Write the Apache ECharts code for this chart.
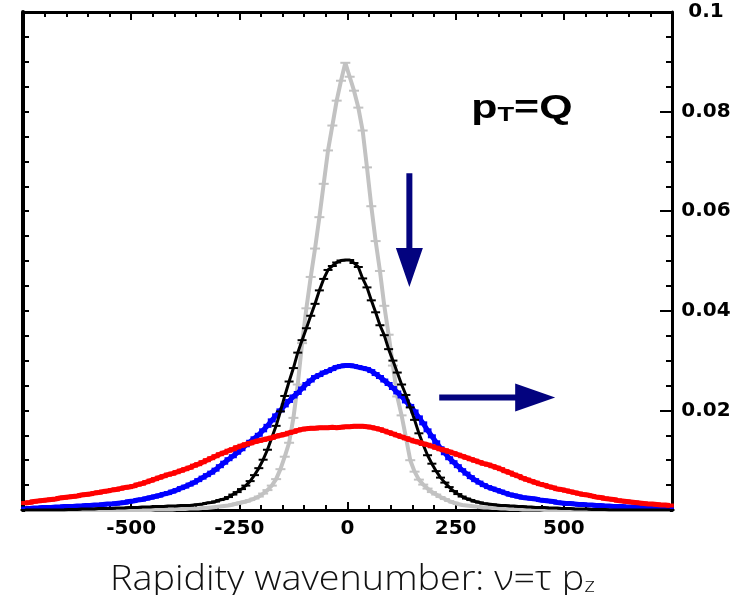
<!DOCTYPE html>
<html>
<head>
<meta charset="utf-8">
<script src="https://cdn.jsdelivr.net/npm/echarts@6/dist/echarts.min.js"></script>
<style>
  html, body { margin: 0; padding: 0; background: #fff; }
  #chart { width: 740px; height: 595px; }
</style>
</head>
<body>
<div id="chart"></div>
<script>
// Rapidity-wavenumber bins: 10 wide, centred on odd multiples of 5 (-745 ... 745)
const NU_FIRST = -745, NU_STEP = 10, NU_COUNT = 150;
const nu = Array.from({ length: NU_COUNT }, (_, i) => NU_FIRST + i * NU_STEP);

const xTickLabels = ['-500', '-250', '0', '250', '500'];
const yTickLabels = ['0.02', '0.04', '0.06', '0.08', '0.1'];

// Distributions at successive times (narrowest first)
const grayCurve = [
  0,0,0,0,0,0,0,0,0,0, 0,0,0,0,0,0,0,0,0,0, 0,0,0,0,0,0,0,0,0,0,
  0.0001,0.0001,0.0001,0.0001,0.0001, 0.0002,0.0002,0.0002,0.0003,0.0003,
  0.0003,0.0004,0.0004,0.0005,0.0006, 0.0007,0.0008,0.0009,0.0011,0.0013,
  0.0015,0.0017,0.0020,0.0023,0.0027, 0.0033,0.0040,0.0049,0.0062,0.0082,
  0.0107,0.0135,0.0185,0.0252,0.0335, 0.0405,0.0468,0.0525,0.0588,0.0655,
  0.0722,0.0772,0.0822,0.0862,0.0898,
  0.0870,0.0842,0.0808,0.0762,0.0688, 0.0610,0.0540,0.0480,0.0410,0.0352,
  0.0290,0.0228,0.0190,0.0146,0.0100, 0.0077,0.0061,0.0051,0.0043,0.0036,
  0.0031,0.0026,0.0022,0.0018,0.0015, 0.0012,0.0010,0.0009,0.0008,0.0007,
  0.0006,0.0005,0.0005,0.0004,0.0004, 0.0003,0.0003,0.0002,0.0002,0.0002,
  0.0001,0.0001,0.0001,0.0001,0.0001,
  0,0,0,0,0,0,0,0,0,0, 0,0,0,0,0,0,0,0,0,0, 0,0,0,0,0,0,0,0,0,0
];

const blackCurve = [
  0,0,0,0,0,0,0,0,0,0,
  0.0001,0.0001,0.0001,0.0002,0.0002, 0.0002,0.0002,0.0003,0.0003,0.0003,
  0.0003,0.0004,0.0004,0.0004,0.0005, 0.0005,0.0005,0.0006,0.0006,0.0006,
  0.0007,0.0007,0.0007,0.0008,0.0008, 0.0008,0.0009,0.0009,0.0009,0.0010,
  0.0011,0.0012,0.0014,0.0015,0.0017, 0.0020,0.0022,0.0026,0.0031,0.0036,
  0.0042,0.0049,0.0058,0.0070,0.0084, 0.0101,0.0121,0.0145,0.0169,0.0198,
  0.0229,0.0258,0.0285,0.0316,0.0341, 0.0365,0.0390,0.0414,0.0441,0.0464,
  0.0482,0.0490,0.0497,0.0501,0.0502,
  0.0502,0.0496,0.0488,0.0465,0.0447, 0.0421,0.0397,0.0371,0.0351,0.0323,
  0.0300,0.0276,0.0252,0.0231,0.0206, 0.0181,0.0154,0.0131,0.0110,0.0093,
  0.0078,0.0065,0.0055,0.0046,0.0038, 0.0032,0.0027,0.0023,0.0020,0.0017,
  0.0015,0.0013,0.0012,0.0011,0.0010, 0.0009,0.0009,0.0008,0.0008,0.0007,
  0.0007,0.0006,0.0006,0.0005,0.0005, 0.0005,0.0004,0.0004,0.0004,0.0003,
  0.0003,0.0003,0.0002,0.0002,0.0002, 0.0002,0.0001,0.0001,0.0001,0.0001,
  0,0,0,0,0,0,0,0,0,0, 0,0,0,0,0
];

const blueCurve = [
  0.0003,0.0003,0.0004,0.0004,0.0005, 0.0005,0.0005,0.0006,0.0006,0.0007,
  0.0007,0.0007,0.0008,0.0008,0.0009, 0.0009,0.0010,0.0010,0.0011,0.0012,
  0.0012,0.0013,0.0014,0.0015,0.0017, 0.0018,0.0020,0.0021,0.0023,0.0025,
  0.0027,0.0029,0.0032,0.0034,0.0037, 0.0040,0.0044,0.0047,0.0051,0.0055,
  0.0060,0.0065,0.0070,0.0075,0.0081, 0.0088,0.0095,0.0102,0.0108,0.0115,
  0.0122,0.0130,0.0137,0.0144,0.0151, 0.0160,0.0169,0.0180,0.0190,0.0200,
  0.0210,0.0219,0.0228,0.0235,0.0244, 0.0253,0.0260,0.0267,0.0271,0.0276,
  0.0279,0.0283,0.0287,0.0289,0.0290,
  0.0290,0.0289,0.0287,0.0285,0.0283, 0.0279,0.0273,0.0267,0.0260,0.0253,
  0.0245,0.0236,0.0228,0.0218,0.0209, 0.0198,0.0186,0.0174,0.0160,0.0148,
  0.0136,0.0124,0.0114,0.0104,0.0096, 0.0088,0.0080,0.0073,0.0066,0.0060,
  0.0055,0.0050,0.0046,0.0043,0.0040, 0.0037,0.0034,0.0031,0.0029,0.0027,
  0.0025,0.0024,0.0023,0.0022,0.0020, 0.0019,0.0018,0.0017,0.0015,0.0014,
  0.0013,0.0013,0.0012,0.0011,0.0011, 0.0010,0.0010,0.0009,0.0009,0.0008,
  0.0008,0.0007,0.0007,0.0007,0.0006, 0.0006,0.0005,0.0005,0.0005,0.0004,
  0.0004,0.0004,0.0003,0.0003,0.0003
];

const redCurve = [
  0.0014,0.0015,0.0017,0.0018,0.0019, 0.0020,0.0021,0.0022,0.0024,0.0025,
  0.0026,0.0027,0.0028,0.0030,0.0031, 0.0032,0.0034,0.0035,0.0037,0.0038,
  0.0040,0.0041,0.0043,0.0045,0.0046, 0.0048,0.0051,0.0053,0.0056,0.0059,
  0.0062,0.0065,0.0068,0.0071,0.0073, 0.0076,0.0079,0.0082,0.0085,0.0089,
  0.0092,0.0096,0.0100,0.0104,0.0108, 0.0112,0.0115,0.0119,0.0122,0.0126,
  0.0129,0.0132,0.0134,0.0137,0.0139, 0.0141,0.0143,0.0145,0.0148,0.0150,
  0.0152,0.0155,0.0157,0.0160,0.0162, 0.0163,0.0164,0.0164,0.0165,0.0165,
  0.0165,0.0166,0.0165,0.0166,0.0167,
  0.0167,0.0168,0.0168,0.0168,0.0167, 0.0166,0.0164,0.0162,0.0159,0.0156,
  0.0153,0.0150,0.0147,0.0144,0.0141, 0.0138,0.0136,0.0133,0.0131,0.0128,
  0.0125,0.0122,0.0120,0.0117,0.0114, 0.0111,0.0108,0.0105,0.0102,0.0099,
  0.0096,0.0093,0.0091,0.0088,0.0085, 0.0082,0.0078,0.0075,0.0071,0.0068,
  0.0064,0.0061,0.0058,0.0055,0.0052, 0.0050,0.0047,0.0045,0.0042,0.0041,
  0.0039,0.0037,0.0035,0.0033,0.0031, 0.0030,0.0028,0.0026,0.0025,0.0023,
  0.0022,0.0021,0.0019,0.0018,0.0017, 0.0016,0.0015,0.0014,0.0013,0.0012,
  0.0012,0.0011,0.0010,0.0010,0.0009
];

// Annotation arrows, in data units: [nu, value] tail -> tip
const arrowDown  = [[143, 0.0676], [143, 0.0448]];
const arrowRight = [[212, 0.0226], [480, 0.0226]];
// Label anchor (left, baseline) in data units
const ptLabelAt = [286, 0.0780];

const chart = echarts.init(document.getElementById('chart'), null, { renderer: 'canvas' });

const tickFont = { fontFamily: 'DejaVu Sans', fontWeight: 'bold', color: '#000' };
const frameLine = { show: true, onZero: false, lineStyle: { color: '#000', width: 3 } };

function curve(name, data, color, width, markSize, z) {
  return {
    name, type: 'line', z,
    xAxisIndex: 0, yAxisIndex: 0,
    data: nu.map((x, i) => [x, data[i]]),
    showAllSymbol: true,
    symbol: 'rect', symbolSize: markSize,
    itemStyle: { color },
    lineStyle: { color, width },
    emphasis: { disabled: true },
    silent: true
  };
}

chart.setOption({
  animation: false,
  backgroundColor: '#fff',
  grid: { left: 23, right: 68, top: 12, bottom: 85, containLabel: false },
  xAxis: [
    {
      type: 'value', position: 'bottom', min: -750, max: 750, interval: 250,
      axisLine: frameLine,
      axisTick: { show: true, inside: true, length: 8, lineStyle: { color: '#000', width: 2 } },
      minorTick: { show: true, splitNumber: 5, length: 5, lineStyle: { color: '#000', width: 2 } },
      axisLabel: Object.assign({
        fontSize: 20, margin: 9, showMinLabel: false, showMaxLabel: false,
        formatter: v => xTickLabels.includes(String(v)) ? String(v) : ''
      }, tickFont),
      splitLine: { show: false }
    },
    {
      type: 'value', position: 'top', min: -750, max: 750, interval: 250,
      axisLine: frameLine,
      axisTick: { show: true, inside: true, length: 8, lineStyle: { color: '#000', width: 2 } },
      minorTick: { show: true, splitNumber: 5, length: 5, lineStyle: { color: '#000', width: 2 } },
      axisLabel: { show: false },
      splitLine: { show: false }
    }
  ],
  yAxis: [
    {
      type: 'value', position: 'right', min: 0, max: 0.1, interval: 0.02,
      axisLine: frameLine,
      axisTick: { show: true, inside: true, length: 12, lineStyle: { color: '#000', width: 2 } },
      minorTick: { show: true, splitNumber: 4, length: 6, lineStyle: { color: '#000', width: 2 } },
      axisLabel: Object.assign({
        fontSize: 20, margin: 34, align: 'center', showMinLabel: false,
        formatter: v => {
          const s = String(+v.toFixed(3));
          return yTickLabels.includes(s) ? s : '';
        }
      }, tickFont),
      splitLine: { show: false }
    },
    {
      type: 'value', position: 'left', min: 0, max: 0.1, interval: 0.02,
      axisLine: Object.assign({}, frameLine, { lineStyle: { color: '#000', width: 4 } }),
      axisTick: { show: true, inside: true, length: 6, lineStyle: { color: '#000', width: 2 } },
      minorTick: { show: true, splitNumber: 4, length: 6, lineStyle: { color: '#000', width: 2 } },
      axisLabel: { show: false },
      splitLine: { show: false }
    }
  ],
  series: [
    curve('t1', grayCurve, '#c2c2c2', 4, [10, 2], 2),
    curve('t3', blueCurve, '#0000ff', 5, [8, 4], 3),
    curve('t2', blackCurve, '#000000', 3, [9, 2], 4),
    curve('t4', redCurve, '#ff0000', 5, [8, 4], 5)
  ]
});

// Annotations placed from data coordinates
const px = p => chart.convertToPixel({ xAxisIndex: 0, yAxisIndex: 0 }, p);
const navy = '#03037f';

function downArrow(seg) {
  const a = px(seg[0]), b = px(seg[1]);
  const x = a[0], hw = 3, headW = 13.5, headL = 39, yh = b[1] - headL;
  return [[x - hw, a[1]], [x + hw, a[1]], [x + hw, yh], [x + headW, yh], [x, b[1]],
          [x - headW, yh], [x - hw, yh]];
}
function rightArrow(seg) {
  const a = px(seg[0]), b = px(seg[1]);
  const y = a[1], hw = 3, headW = 14, headL = 40, xh = b[0] - headL;
  return [[a[0], y - hw], [xh, y - hw], [xh, y - headW], [b[0], y], [xh, y + headW],
          [xh, y + hw], [a[0], y + hw]];
}

const lab = px(ptLabelAt);
const zero = px([0, 0]);

chart.setOption({
  graphic: [
    { type: 'polygon', shape: { points: downArrow(arrowDown) }, style: { fill: navy }, z: 10, silent: true },
    { type: 'polygon', shape: { points: rightArrow(arrowRight) }, style: { fill: navy }, z: 10, silent: true },
    {
      type: 'text', x: lab[0], y: lab[1] + 4, scaleX: 1.3, z: 10, silent: true,
      style: {
        text: '{p|p}{t|T}{p|=Q}',
        verticalAlign: 'bottom',
        rich: {
          p: { fontFamily: 'Liberation Sans', fontWeight: 'bold', fontSize: 33, fill: '#000', verticalAlign: 'bottom' },
          t: { fontFamily: 'Liberation Sans', fontWeight: 'bold', fontSize: 21, fill: '#000', verticalAlign: 'bottom' }
        }
      }
    },
    {
      type: 'text', x: zero[0] + 5, y: 597, scaleX: 1.11, z: 10, silent: true,
      style: {
        text: '{m|Rapidity wavenumber: ν=τ p}{s|z}',
        align: 'center', verticalAlign: 'bottom',
        rich: {
          m: { fontFamily: 'Open Sans', fontWeight: 300, fontSize: 34, fill: '#111', verticalAlign: 'bottom' },
          s: { fontFamily: 'Open Sans', fontWeight: 300, fontSize: 21, fill: '#111', verticalAlign: 'bottom' }
        }
      }
    }
  ]
});
</script>
</body>
</html>
